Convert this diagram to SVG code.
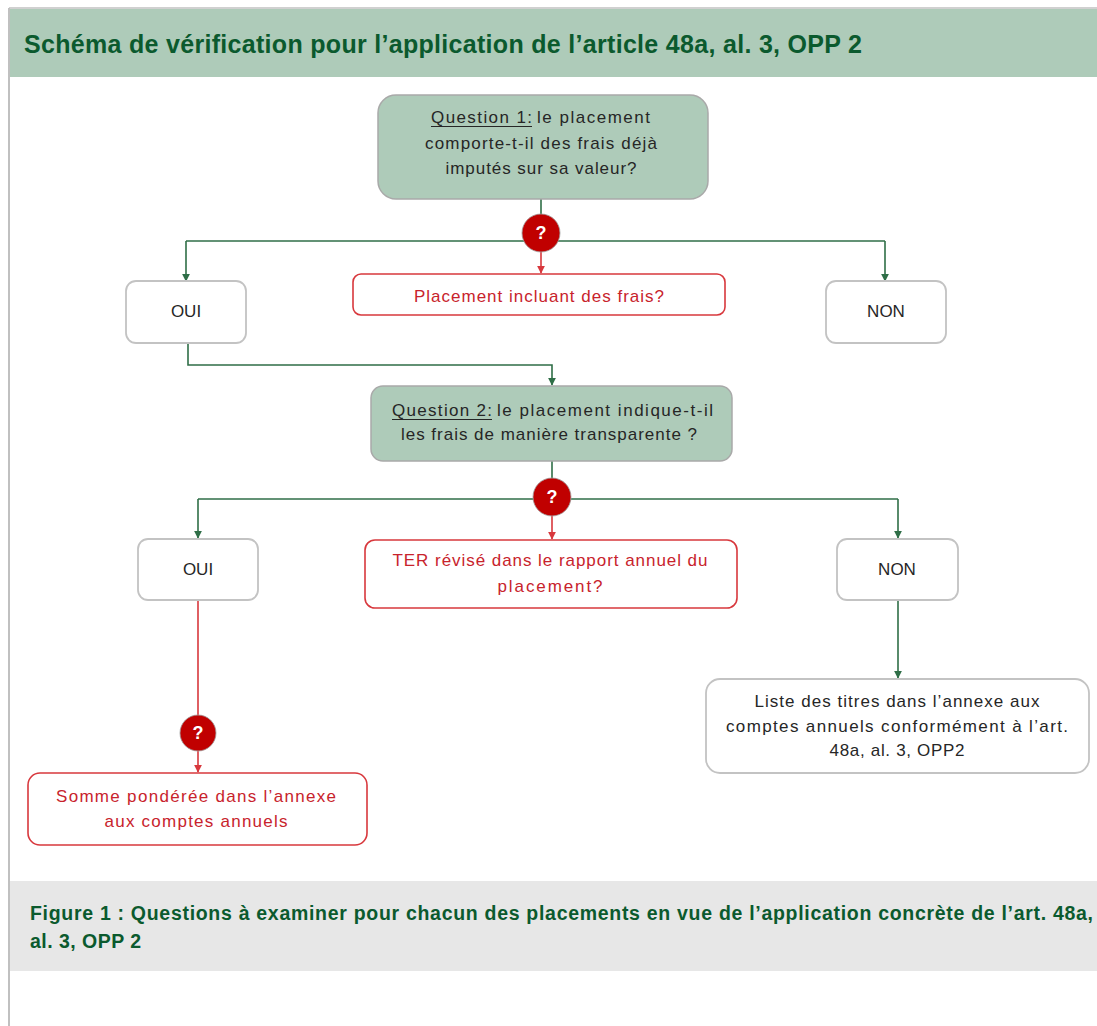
<svg xmlns="http://www.w3.org/2000/svg" width="1097" height="1026" viewBox="0 0 1097 1026">
<defs>
<style>
.t{font-family:"Liberation Sans",Arial,sans-serif;font-size:17px;fill:#262626;text-anchor:middle}
.s{text-anchor:start}
.r{fill:#c8232c}
.h{font-family:"Liberation Sans",Arial,sans-serif;font-weight:bold;fill:#0b5a2e}
.q{fill:#aecbb9;stroke:#a9a9a9;stroke-width:1.5}
.w{fill:#ffffff;stroke:#c3c3c3;stroke-width:1.8}
.rb{fill:#ffffff;stroke:#d8383d;stroke-width:1.6}
.g{fill:none;stroke:#2f6e47;stroke-width:1.6}
.rl{fill:none;stroke:#d8383d;stroke-width:1.6}
.u{stroke:#262626;stroke-width:1.2}
.c{fill:#c00000;stroke:#a0a0a0;stroke-width:0.8}
.qm{font-family:"Liberation Sans",Arial,sans-serif;font-weight:bold;font-size:18px;fill:#ffffff;text-anchor:middle}
</style>
<marker id="ag" viewBox="0 0 10 10" refX="9" refY="5" markerWidth="8" markerHeight="8" orient="auto" markerUnits="userSpaceOnUse"><path d="M0,0 L10,5 L0,10 z" fill="#2f6e47"/></marker>
<marker id="ar" viewBox="0 0 10 10" refX="9" refY="5" markerWidth="8" markerHeight="8" orient="auto" markerUnits="userSpaceOnUse"><path d="M0,0 L10,5 L0,10 z" fill="#d8383d"/></marker>
</defs>
<rect x="0" y="0" width="1097" height="1026" fill="#ffffff"/>
<g id="frame">
<line x1="9" y1="8" x2="1097" y2="8" stroke="#c0c0c0" stroke-width="1.5"/>
<line x1="9" y1="8" x2="9" y2="1026" stroke="#c0c0c0" stroke-width="2"/>
<rect x="10" y="9" width="1087" height="68" fill="#aecbb9"/>
<text class="h" x="24" y="53" font-size="25" textLength="838">Schéma de vérification pour l’application de l’article 48a, al. 3, OPP 2</text>
<rect x="10" y="881" width="1087" height="90" fill="#e7e7e7"/>
<text class="h" x="30" y="920" font-size="19.5" textLength="1063">Figure 1 : Questions à examiner pour chacun des placements en vue de l’application concrète de l’art. 48a,</text>
<text class="h" x="30" y="948" font-size="19.5" textLength="111">al. 3, OPP 2</text>
</g>
<g id="connectors">
<path class="g" d="M541,193 V215"/>
<path class="g" d="M186,241 H885"/>
<path class="g" d="M186,241 V281" marker-end="url(#ag)"/>
<path class="g" d="M885,241 V281" marker-end="url(#ag)"/>
<path class="rl" d="M541,252 V273" marker-end="url(#ar)"/>
<path class="g" d="M188,343 V365 H552 V385" marker-end="url(#ag)"/>
<path class="g" d="M552,461 V480"/>
<path class="g" d="M198,499 H898"/>
<path class="g" d="M198,499 V538" marker-end="url(#ag)"/>
<path class="g" d="M898,499 V538" marker-end="url(#ag)"/>
<path class="rl" d="M552,516 V539" marker-end="url(#ar)"/>
<path class="rl" d="M198,600 V715"/>
<path class="rl" d="M198,751 V772" marker-end="url(#ar)"/>
<path class="g" d="M898,600 V678" marker-end="url(#ag)"/>
</g>
<g id="q1">
<rect class="q" x="378" y="95" width="330" height="104" rx="18"/>
<text class="t s" x="431" y="123" textLength="101">Question 1:</text>
<line class="u" x1="431" y1="126.5" x2="532" y2="126.5"/>
<text class="t s" x="537" y="123" textLength="113">le placement</text>
<text class="t" x="541" y="149" textLength="232">comporte-t-il des frais déjà</text>
<text class="t" x="541" y="174" textLength="191">imputés sur sa valeur?</text>
</g>
<g id="d1"><circle class="c" cx="541" cy="233" r="19"/><text class="qm" x="541" y="239">?</text></g>
<g id="oui1"><rect class="w" x="126" y="281" width="120" height="62" rx="10"/><text class="t" x="186" y="317" font-size="15">OUI</text></g>
<g id="non1"><rect class="w" x="826" y="281" width="120" height="62" rx="10"/><text class="t" x="886" y="317" font-size="15">NON</text></g>
<g id="r1"><rect class="rb" x="353" y="274" width="372" height="41" rx="8"/><text class="t r" x="539" y="302" textLength="250">Placement incluant des frais?</text></g>
<g id="q2">
<rect class="q" x="371" y="386" width="361" height="75" rx="12"/>
<text class="t s" x="392" y="416" textLength="100">Question 2:</text>
<line class="u" x1="392" y1="419.5" x2="492" y2="419.5"/>
<text class="t s" x="497" y="416" textLength="216">le placement indique-t-il</text>
<text class="t" x="549" y="440" textLength="296">les frais de manière transparente ?</text>
</g>
<g id="d2"><circle class="c" cx="552" cy="497" r="19"/><text class="qm" x="552" y="503">?</text></g>
<g id="oui2"><rect class="w" x="138" y="539" width="120" height="61" rx="10"/><text class="t" x="198" y="575" font-size="15">OUI</text></g>
<g id="non2"><rect class="w" x="837" y="539" width="121" height="61" rx="10"/><text class="t" x="897" y="575" font-size="15">NON</text></g>
<g id="r2">
<rect class="rb" x="365" y="540" width="372" height="68" rx="10"/>
<text class="t r" x="550" y="566" textLength="315">TER révisé dans le rapport annuel du</text>
<text class="t r" x="550" y="592" textLength="105">placement?</text>
</g>
<g id="d3"><circle class="c" cx="198" cy="733" r="18"/><text class="qm" x="198" y="739">?</text></g>
<g id="r3">
<rect class="rb" x="28" y="773" width="339" height="72" rx="12"/>
<text class="t r" x="196" y="802" textLength="280">Somme pondérée dans l’annexe</text>
<text class="t r" x="196" y="827" textLength="183">aux comptes annuels</text>
</g>
<g id="liste">
<rect class="w" x="706" y="679" width="383" height="94" rx="14"/>
<text class="t" x="897" y="707" textLength="285">Liste des titres dans l’annexe aux</text>
<text class="t" x="897" y="732" textLength="342">comptes annuels conformément à l’art.</text>
<text class="t" x="897" y="756" textLength="135">48a, al. 3, OPP2</text>
</g>
</svg>
